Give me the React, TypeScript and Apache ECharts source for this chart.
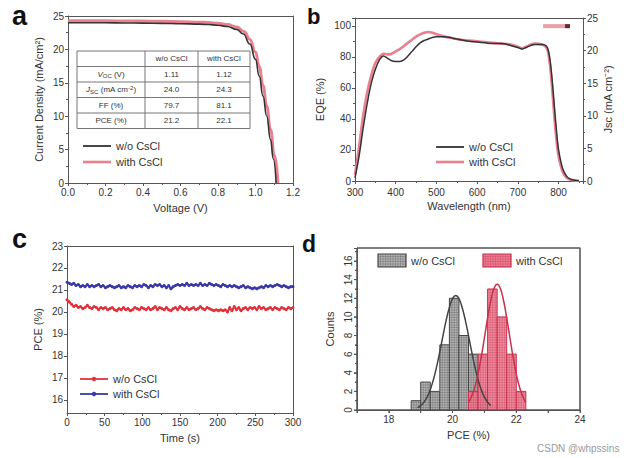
import React, { useEffect, useRef } from "react";
import * as echarts from "echarts";

const FONT = "'Liberation Sans', Arial, sans-serif";
const TXT = "#333";
const AX = "#555";

// ---- (a) J–V curves ----
const jvVoltageWo = [0, 0.1, 0.2, 0.3, 0.4, 0.5, 0.6, 0.7, 0.75, 0.8, 0.85, 0.9, 0.935, 0.97, 1.0, 1.02, 1.04, 1.06, 1.08, 1.095, 1.11];
const jvCurrentWo = [24.0, 24.0, 23.98, 23.96, 23.93, 23.9, 23.85, 23.78, 23.72, 23.62, 23.42, 23.0, 22.3, 20.8, 18.5, 16.0, 13.0, 10.0, 6.5, 3.6, 0];
const jvVoltageWith = [0, 0.1, 0.2, 0.3, 0.4, 0.5, 0.6, 0.7, 0.75, 0.8, 0.85, 0.9, 0.94, 0.97, 1.0, 1.02, 1.04, 1.06, 1.08, 1.1, 1.12];
const jvCurrentWith = [24.3, 24.3, 24.28, 24.26, 24.24, 24.2, 24.15, 24.08, 24.02, 23.92, 23.72, 23.35, 22.65, 21.5, 19.6, 17.4, 14.6, 11.5, 8.0, 4.2, 0];

// photovoltaic parameters table
const tableHeader = ["", "w/o CsCl", "with CsCl"];
const tableParams = ["{n|V}{s|OC} (V)", "{n|J}{s|SC} (mA cm{p|-2})", "FF (%)", "PCE (%)"];
const tableWo = ["1.11", "24.0", "79.7", "21.2"];
const tableWith = ["1.12", "24.3", "81.1", "22.1"];

// ---- (b) EQE spectra ----
const wavelength = [300, 310, 320, 330, 340, 350, 360, 370, 380, 390, 400, 410, 420, 430, 440, 450, 460, 470, 480, 490, 500, 520, 540, 560, 580, 600, 620, 640, 660, 680, 700, 710, 720, 740, 760, 770, 775, 780, 785, 790, 795, 800, 810, 820, 830, 840, 850];
const eqeWo = [2, 16, 34, 50, 63, 72, 78, 80.5, 79, 77.5, 77, 77, 78, 80.5, 83.5, 86.5, 89, 90.5, 91.5, 92.5, 93, 93, 92, 91, 90, 89.5, 89, 88.5, 88.5, 87.5, 86, 85, 86, 88, 88, 87, 84, 76, 63, 47, 32, 20, 8, 3, 1, 0.5, 0.2];
const eqeWith = [4, 22, 42, 57, 68, 76, 80, 82, 81.5, 82, 83.5, 85, 87, 89, 91, 93, 94.5, 95.5, 96, 95.5, 94.5, 93, 92, 91, 90.5, 90, 89.5, 89, 88.5, 88, 86.5, 85.5, 86.5, 88.5, 88, 86, 82, 72, 57, 40, 26, 16, 6, 2, 0.8, 0.3, 0.1];
// integrated Jsc (right axis)
const jscWlWith = [762, 828];
const jscWith = [23.75, 23.75];
const jscWlWo = [816, 828];
const jscWo = [23.75, 23.75];

// ---- (c) stabilized PCE, sampled every 3 s ----
const timeStep = 3;
const pceTrackWo = [
  20.55, 20.45, 20.35, 20.25, 20.3, 20.2, 20.25, 20.15, 20.2, 20.3,
  20.2, 20.15, 20.25, 20.2, 20.1, 20.2, 20.15, 20.2, 20.1, 20.15,
  20.2, 20.1, 20.05, 20.15, 20.1, 20.2, 20.1, 20.15, 20.05, 20.1,
  20.2, 20.15, 20.1, 20.2, 20.15, 20.1, 20.2, 20.1, 20.15, 20.25,
  20.1, 20.2, 20.15, 20.1, 20.2, 20.1, 20.05, 20.15, 20.2, 20.1,
  20.25, 20.15, 20.1, 20.2, 20.1, 20.15, 20.2, 20.1, 20.15, 20.25,
  20.15, 20.1, 20.2, 20.15, 20.1, 20.05, 20.1, 20.05, 20.1, 20.05,
  20.1, 20.0, 20.2, 20.05, 20.25, 20.1, 20.2, 20.05, 20.15, 20.2,
  20.1, 20.2, 20.15, 20.2, 20.1, 20.25, 20.15, 20.2, 20.1, 20.15,
  20.2, 20.1, 20.2, 20.15, 20.1, 20.2, 20.15, 20.1, 20.2, 20.15,
  20.2,
];
const pceTrackWith = [
  21.35, 21.3, 21.25, 21.3, 21.2, 21.25, 21.15, 21.2, 21.15, 21.25,
  21.15, 21.2, 21.15, 21.2, 21.25, 21.15, 21.2, 21.1, 21.15, 21.2,
  21.15, 21.1, 21.15, 21.2, 21.1, 21.15, 21.1, 21.2, 21.15, 21.1,
  21.2, 21.15, 21.2, 21.15, 21.25, 21.2, 21.1, 21.2, 21.15, 21.25,
  21.2, 21.25, 21.15, 21.2, 21.1, 21.2, 21.05, 21.15, 21.2, 21.25,
  21.2, 21.25, 21.2, 21.3, 21.2, 21.25, 21.2, 21.25, 21.2, 21.3,
  21.2, 21.25, 21.2, 21.3, 21.25, 21.2, 21.25, 21.2, 21.15, 21.25,
  21.2, 21.15, 21.2, 21.15, 21.2, 21.15, 21.1, 21.15, 21.2, 21.1,
  21.15, 21.1, 21.05, 21.1, 21.05, 21.1, 21.15, 21.1, 21.2, 21.15,
  21.2, 21.15, 21.2, 21.25, 21.2, 21.15, 21.2, 21.15, 21.1, 21.15,
  21.15,
];
const pceTicks = [16, 17, 18, 19, 20, 21, 22, 23];

// ---- (d) PCE histograms: [bin start, bin end, count] ----
const histWo = [[18.7, 19.0, 1], [19.0, 19.3, 3], [19.3, 19.6, 2], [19.6, 19.9, 7], [19.9, 20.2, 12], [20.2, 20.5, 8], [20.5, 20.8, 6], [20.8, 21.1, 2]];
const histWith = [[20.5, 20.8, 2], [20.8, 21.1, 6], [21.1, 21.4, 13], [21.4, 21.7, 10], [21.7, 22.0, 6], [22.0, 22.3, 2]];
// distribution fits
const fitPceWo = [18.9, 19.0, 19.1, 19.2, 19.3, 19.4, 19.5, 19.6, 19.7, 19.8, 19.9, 20.0, 20.1, 20.2, 20.3, 20.4, 20.5, 20.6, 20.7, 20.8, 20.9, 21.0, 21.1, 21.2];
const fitCountWo = [0.25, 0.47, 0.83, 1.38, 2.18, 3.28, 4.65, 6.26, 7.98, 9.65, 11.0, 11.97, 12.3, 11.97, 11.0, 9.65, 7.98, 6.26, 4.65, 3.28, 2.18, 1.38, 0.83, 0.47];
const fitPceWith = [20.5, 20.6, 20.7, 20.8, 20.9, 21.0, 21.1, 21.2, 21.3, 21.4, 21.5, 21.6, 21.7, 21.8, 21.9, 22.0, 22.1, 22.2, 22.3];
const fitCountWith = [0.82, 1.48, 2.47, 3.88, 5.68, 7.76, 9.89, 11.76, 13.04, 13.5, 13.04, 11.76, 9.89, 7.76, 5.68, 3.88, 2.47, 1.48, 0.82];
const histPceRange = [17, 24];
const histCountRange = [0, 17.4];
const histPceTicks = [17, 18, 19, 20, 21, 22, 23, 24];
const histCountTicks = [0, 2, 4, 6, 8, 10, 12, 14, 16];
const histCountMinor = [1, 3, 5, 7, 9, 11, 13, 15, 17];

const zip = (xs: number[], ys: number[]) => xs.map((x, i) => [x, ys[i]]);

const tickStyle = { color: AX, width: 1 };

function valueAxis(o: any) {
  const { axisLabel, axisTick, minorTick, ...rest } = o;
  return {
    type: "value",
    nameLocation: "middle",
    nameTextStyle: { color: TXT, fontSize: 11, fontFamily: FONT },
    axisLine: { show: true, onZero: false, lineStyle: { ...tickStyle } },
    axisTick: { show: true, inside: false, length: 3, lineStyle: { ...tickStyle }, ...(axisTick || {}) },
    minorTick: { show: true, splitNumber: 2, length: 2, lineStyle: { ...tickStyle }, ...(minorTick || {}) },
    splitLine: { show: false },
    axisLabel: { color: TXT, fontSize: 10, fontFamily: FONT, margin: 4, ...(axisLabel || {}) },
    ...rest,
  };
}

// plain frame edge (top / right) without ticks or labels
function frameAxis(gridIndex: number, position: string) {
  return {
    type: "value",
    gridIndex,
    position,
    min: 0,
    max: 1,
    axisLine: { show: true, onZero: false, lineStyle: { ...tickStyle } },
    axisTick: { show: false },
    axisLabel: { show: false },
    splitLine: { show: false },
  };
}

function hatchedBars(fill: string, stroke: string, hatch: string, opacity: number) {
  return (_p: any, api: any) => {
    const x0 = api.value(0);
    const x1 = api.value(1);
    const c = api.value(2);
    const tl = api.coord([x0, c]);
    const br = api.coord([x1, 0]);
    const w = br[0] - tl[0];
    const h = br[1] - tl[1];
    const children: any[] = [
      { type: "rect", shape: { x: tl[0], y: tl[1], width: w, height: h }, style: { fill, opacity } },
    ];
    for (let gx = tl[0] + 2.5; gx < br[0] - 0.5; gx += 2.5) {
      children.push({ type: "line", shape: { x1: gx, y1: tl[1], x2: gx, y2: br[1] }, style: { stroke: hatch, lineWidth: 0.5 } });
    }
    for (let gy = br[1] - 2.5; gy > tl[1] + 0.5; gy -= 2.5) {
      children.push({ type: "line", shape: { x1: tl[0], y1: gy, x2: br[0], y2: gy }, style: { stroke: hatch, lineWidth: 0.5 } });
    }
    children.push({ type: "rect", shape: { x: tl[0], y: tl[1], width: w, height: h }, style: { fill: "none", stroke, lineWidth: 1 } });
    return { type: "group", children };
  };
}

function legendLine(x: number, y: number, color: string, width: number, label: string, dot = false) {
  const els: any[] = [
    { type: "line", shape: { x1: x, y1: y, x2: x + 28, y2: y }, style: { stroke: color, lineWidth: width } },
    { type: "text", x: x + 33, y, style: { text: label, fill: TXT, font: `11px ${FONT}`, verticalAlign: "middle" } },
  ];
  if (dot) els.push({ type: "circle", shape: { cx: x + 14, cy: y, r: 2.2 }, style: { fill: color } });
  return els;
}

function legendBox(x: number, y: number, fill: string, stroke: string, hatch: string, label: string) {
  const w = 28;
  const h = 13;
  const els: any[] = [{ type: "rect", shape: { x, y, width: w, height: h }, style: { fill } }];
  for (let gx = x + 2.5; gx < x + w; gx += 2.5) els.push({ type: "line", shape: { x1: gx, y1: y, x2: gx, y2: y + h }, style: { stroke: hatch, lineWidth: 0.5 } });
  for (let gy = y + 2.5; gy < y + h; gy += 2.5) els.push({ type: "line", shape: { x1: x, y1: gy, x2: x + w, y2: gy }, style: { stroke: hatch, lineWidth: 0.5 } });
  els.push({ type: "rect", shape: { x, y, width: w, height: h }, style: { fill: "none", stroke, lineWidth: 1.2 } });
  els.push({ type: "text", x: x + w + 5, y: y + h / 2, style: { text: label, fill: TXT, font: `11px ${FONT}`, verticalAlign: "middle" } });
  return els;
}

function paramTable(left: number, top: number) {
  const cols = [left, left + 68, left + 121, left + 173];
  const rowH = 15.5;
  const rows = tableParams.length + 1;
  const els: any[] = [];
  els.push({ type: "rect", shape: { x: cols[0], y: top, width: cols[3] - cols[0], height: rowH * rows }, style: { fill: "#fff", stroke: "#777", lineWidth: 1 } });
  for (let r = 1; r < rows; r++) {
    els.push({ type: "line", shape: { x1: cols[0], y1: top + r * rowH, x2: cols[3], y2: top + r * rowH }, style: { stroke: "#777", lineWidth: 1 } });
  }
  for (let c = 1; c < 3; c++) {
    els.push({ type: "line", shape: { x1: cols[c], y1: top, x2: cols[c], y2: top + rowH * rows }, style: { stroke: "#777", lineWidth: 1 } });
  }
  const rich = {
    n: { fontSize: 8, fontStyle: "italic", fontFamily: FONT, fill: TXT },
    s: { fontSize: 6, fontFamily: FONT, fill: TXT, verticalAlign: "bottom", padding: [4, 0, 0, 0] },
    p: { fontSize: 6, fontFamily: FONT, fill: TXT, verticalAlign: "top", padding: [0, 0, 4, 0] },
  };
  const cell = (text: string, c: number, r: number) => ({
    type: "text",
    x: (cols[c] + cols[c + 1]) / 2,
    y: top + r * rowH + rowH / 2,
    style: { text, fill: TXT, font: `8px ${FONT}`, align: "center", verticalAlign: "middle", rich },
  });
  els.push(cell(tableHeader[1], 1, 0), cell(tableHeader[2], 2, 0));
  tableParams.forEach((t, i) => {
    els.push(cell(t, 0, i + 1), cell(tableWo[i], 1, i + 1), cell(tableWith[i], 2, i + 1));
  });
  return els;
}

function letter(t: string, x: number, y: number, size: number) {
  return { type: "text", x, y, style: { text: t, fill: "#111", font: `bold ${size}px ${FONT}`, verticalAlign: "top" } };
}

const edge = (x1: number, y1: number, x2: number, y2: number) => ({
  type: "line",
  z: 100,
  shape: { x1, y1, x2, y2 },
  style: { stroke: AX, lineWidth: 1 },
});

export default function App() {
  const ref = useRef<HTMLDivElement>(null);

  useEffect(() => {
    if (!ref.current) return;
    const chart = echarts.init(ref.current, undefined, { renderer: "svg" });

    const baseGraphic: any[] = [
      letter("a", 12, 2, 27),
      letter("b", 307, 5, 22),
      letter("c", 12, 225, 27),
      letter("d", 302, 232, 23),
      ...paramTable(77, 51),
      ...legendLine(83, 146, "#333", 1.8, "w/o CsCl"),
      ...legendLine(83, 162, "#e8808f", 2.6, "with CsCl"),
      ...legendLine(436, 147, "#333", 1.8, "w/o CsCl"),
      ...legendLine(436, 162, "#e8808f", 2.6, "with CsCl"),
      ...legendLine(80, 379, "#e0343c", 1.8, "w/o CsCl", true),
      ...legendLine(80, 394, "#3a3aa8", 1.8, "with CsCl", true),
      ...legendBox(378, 254, "#b4b4b4", "#444", "rgba(40,40,40,0.45)", "w/o CsCl"),
      ...legendBox(483, 254, "#ef7d92", "#c8304c", "rgba(160,20,50,0.4)", "with CsCl"),
      { type: "text", x: 537, y: 448, style: { text: "CSDN @whpssins", fill: "#9a9a9a", font: `10px ${FONT}`, verticalAlign: "middle" } },
    ];

    chart.setOption({
      animation: false,
      backgroundColor: "#fff",
      grid: [
        { left: 68, top: 16, width: 225, height: 167 },
        { left: 355, top: 18, width: 228, height: 163 },
        { left: 67, top: 246, width: 226, height: 167 },
        { left: 357, top: 248, width: 223, height: 162, show: true, borderColor: AX, borderWidth: 1, backgroundColor: "transparent" },
      ],
      xAxis: [
        valueAxis({ gridIndex: 0, position: "bottom", min: 0, max: 1.2, interval: 0.2, name: "Voltage (V)", nameGap: 19, axisLabel: { formatter: (v: number) => v.toFixed(1) } }),
        valueAxis({ gridIndex: 1, position: "bottom", min: 300, max: 860, interval: 100, name: "Wavelength (nm)", nameGap: 19, axisLabel: { showMaxLabel: false, margin: 6 } }),
        valueAxis({ gridIndex: 2, position: "bottom", min: 0, max: 300, interval: 50, name: "Time (s)", nameGap: 19 }),
        valueAxis({
          gridIndex: 3, position: "bottom", min: histPceRange[0], max: histPceRange[1], interval: 1, name: "PCE (%)", nameGap: 19,
          axisLabel: { formatter: (v: number) => (v % 2 === 0 ? String(v) : "") },
          minorTick: { show: false },
        }),
        frameAxis(0, "top"),
        frameAxis(1, "top"),
        frameAxis(2, "top"),
      ],
      yAxis: [
        valueAxis({ gridIndex: 0, position: "left", min: 0, max: 25, interval: 5, name: "Current Density (mA/cm²)", nameGap: 24, nameRotate: 90 }),
        valueAxis({ gridIndex: 1, position: "left", min: 0, max: 105, interval: 20, name: "EQE (%)", nameGap: 30, nameRotate: 90, axisLabel: { showMaxLabel: false } }),
        valueAxis({ gridIndex: 1, position: "right", min: 0, max: 25, interval: 5, name: "Jsc (mA cm⁻²)", nameGap: 18, nameRotate: 90 }),
        valueAxis({
          gridIndex: 2, position: "left", min: 15.4, max: 23, name: "PCE (%)", nameGap: 24, nameRotate: 90,
          axisLabel: { customValues: pceTicks },
          axisTick: { customValues: pceTicks },
          minorTick: { show: false },
        }),
        valueAxis({ gridIndex: 3, position: "left", min: histCountRange[0], max: histCountRange[1], interval: 2, name: "Counts", nameGap: 22, nameRotate: 90, axisLabel: { showMaxLabel: false, rotate: 90 } }),
        frameAxis(0, "right"),
        frameAxis(2, "right"),
      ],
      series: [
        // (a)
        { type: "line", name: "with CsCl", xAxisIndex: 0, yAxisIndex: 0, data: zip(jvVoltageWith, jvCurrentWith), showSymbol: false, smooth: true, smoothMonotone: "x", lineStyle: { color: "#e8808f", width: 3 } },
        { type: "line", name: "w/o CsCl", xAxisIndex: 0, yAxisIndex: 0, data: zip(jvVoltageWo, jvCurrentWo), showSymbol: false, smooth: true, smoothMonotone: "x", lineStyle: { color: "#333", width: 1.6 } },
        // (b)
        { type: "line", name: "with CsCl", xAxisIndex: 1, yAxisIndex: 1, data: zip(wavelength, eqeWith), showSymbol: false, smooth: 0.3, lineStyle: { color: "#e8808f", width: 2.6 } },
        { type: "line", name: "w/o CsCl", xAxisIndex: 1, yAxisIndex: 1, data: zip(wavelength, eqeWo), showSymbol: false, smooth: 0.3, lineStyle: { color: "#333", width: 1.5 } },
        { type: "line", name: "with CsCl Jsc", xAxisIndex: 1, yAxisIndex: 2, data: zip(jscWlWith, jscWith), showSymbol: false, lineStyle: { color: "#e8a0ab", width: 4 } },
        { type: "line", name: "w/o CsCl Jsc", xAxisIndex: 1, yAxisIndex: 2, data: zip(jscWlWo, jscWo), showSymbol: false, lineStyle: { color: "#6a2434", width: 4 } },
        // (c)
        { type: "line", name: "w/o CsCl", xAxisIndex: 2, yAxisIndex: 3, data: pceTrackWo.map((v, i) => [i * timeStep, v]), symbol: "circle", symbolSize: 3, itemStyle: { color: "#e0343c" }, lineStyle: { color: "#e0343c", width: 2.2 } },
        { type: "line", name: "with CsCl", xAxisIndex: 2, yAxisIndex: 3, data: pceTrackWith.map((v, i) => [i * timeStep, v]), symbol: "circle", symbolSize: 3, itemStyle: { color: "#3a3aa8" }, lineStyle: { color: "#3a3aa8", width: 2.2 } },
        // (d)
        { type: "custom", name: "w/o CsCl", xAxisIndex: 3, yAxisIndex: 4, encode: { x: [0, 1], y: 2 }, clip: false, data: histWo, renderItem: hatchedBars("#b4b4b4", "#444", "rgba(40,40,40,0.45)", 1) },
        { type: "line", name: "w/o CsCl fit", xAxisIndex: 3, yAxisIndex: 4, clip: false, data: zip(fitPceWo, fitCountWo), showSymbol: false, smooth: true, lineStyle: { color: "#444", width: 1.5 } },
        { type: "custom", name: "with CsCl", xAxisIndex: 3, yAxisIndex: 4, encode: { x: [0, 1], y: 2 }, clip: false, data: histWith, renderItem: hatchedBars("#ef7d92", "#c8304c", "rgba(160,20,50,0.4)", 0.9) },
        { type: "line", name: "with CsCl fit", xAxisIndex: 3, yAxisIndex: 4, clip: false, data: zip(fitPceWith, fitCountWith), showSymbol: false, smooth: true, lineStyle: { color: "#c8304c", width: 1.5 } },
      ],
      graphic: baseGraphic,
    });

    // frame and ticks of the histogram panel, placed through the panel's own scales
    const toPx = (x: number, y: number) => chart.convertToPixel({ gridIndex: 3 }, [x, y]) as number[];
    const tl = toPx(histPceRange[0], histCountRange[1]);
    const br = toPx(histPceRange[1], histCountRange[0]);
    const frame: any[] = [
      {
        type: "polyline",
        z: 100,
        shape: { points: [[tl[0], tl[1]], [br[0], tl[1]], [br[0], br[1]], [tl[0], br[1]], [tl[0], tl[1]]] },
        style: { stroke: AX, lineWidth: 1.1, fill: "none" },
      },
    ];
    histPceTicks.forEach((v) => {
      const p = toPx(v, 0);
      frame.push(edge(p[0], br[1], p[0], br[1] + 3));
    });
    histCountTicks.forEach((v) => {
      const p = toPx(histPceRange[0], v);
      frame.push(edge(tl[0] - 3, p[1], tl[0], p[1]));
    });
    histCountMinor.forEach((v) => {
      const p = toPx(histPceRange[0], v);
      frame.push(edge(tl[0] - 2, p[1], tl[0], p[1]));
    });
    chart.setOption({ graphic: [...baseGraphic, ...frame] });

    return () => chart.dispose();
  }, []);

  return <div ref={ref} style={{ position: "fixed", left: 0, top: 0, width: 631, height: 458 }} />;
}
